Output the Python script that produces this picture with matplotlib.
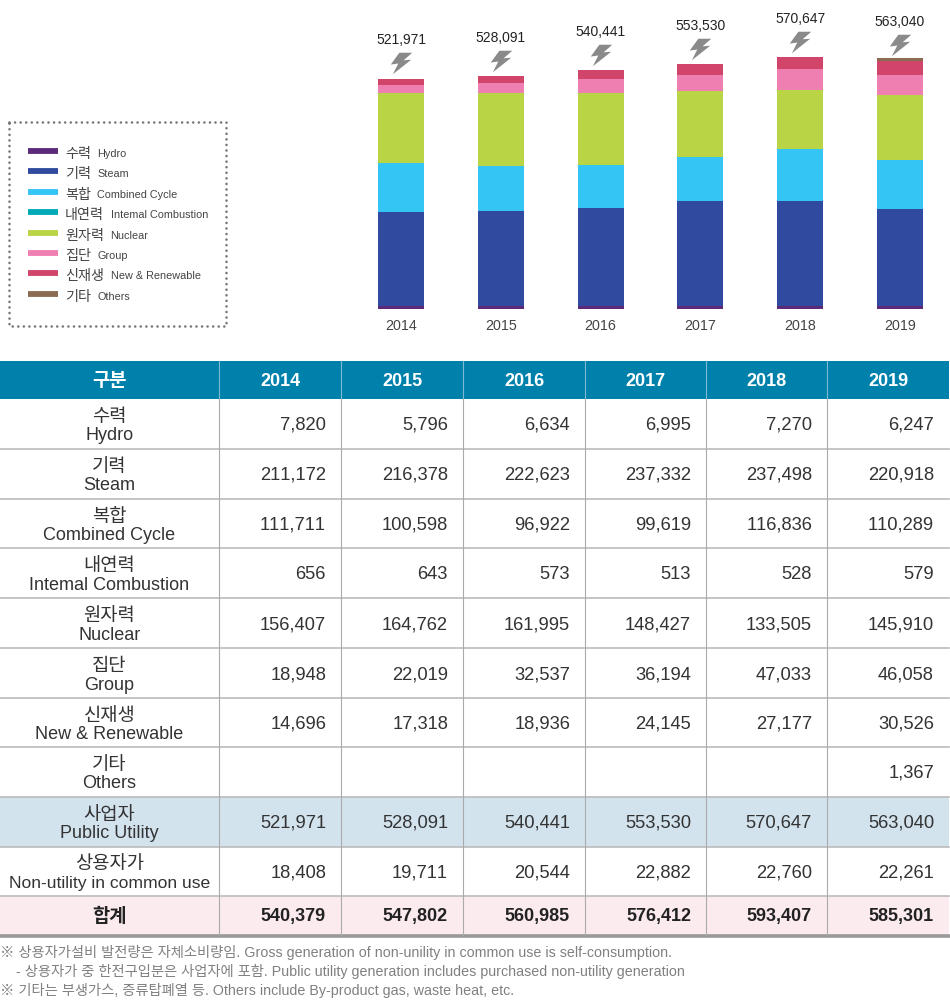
import matplotlib
matplotlib.use('Agg')
import matplotlib.pyplot as plt
from matplotlib.path import Path
from matplotlib.transforms import Affine2D, offset_copy

plt.rcParams['font.family'] = ['Liberation Sans', 'Noto Sans CJK KR', 'DejaVu Sans']
plt.rcParams['text.kerning_factor'] = 6

years = [2014, 2015, 2016, 2017, 2018, 2019]
names_ko = ['수력', '기력', '복합', '내연력', '원자력', '집단', '신재생', '기타']
names_en = ['Hydro', 'Steam', 'Combined Cycle', 'Intemal Combustion', 'Nuclear', 'Group',
            'New & Renewable', 'Others']
colors = ['#5B2A7B', '#2F4A9E', '#35C5F4', '#00A9B5', '#B9D546', '#EF7FB0', '#D1456B', '#8B6B52']

hydro = [7820, 5796, 6634, 6995, 7270, 6247]
steam = [211172, 216378, 222623, 237332, 237498, 220918]
combined = [111711, 100598, 96922, 99619, 116836, 110289]
internal = [656, 643, 573, 513, 528, 579]
nuclear = [156407, 164762, 161995, 148427, 133505, 145910]
group = [18948, 22019, 32537, 36194, 47033, 46058]
renewable = [14696, 17318, 18936, 24145, 27177, 30526]
others = [None, None, None, None, None, 1367]
# the brown cap in the chart is drawn thicker than its table value
others_bar = [0, 0, 0, 0, 0, 7500]
public_utility = [521971, 528091, 540441, 553530, 570647, 563040]
non_utility = [18408, 19711, 20544, 22882, 22760, 22261]
total = [540379, 547802, 560985, 576412, 593407, 585301]

series = [hydro, steam, combined, internal, nuclear, group, renewable, others]
bar_series = [hydro, steam, combined, internal, nuclear, group, renewable, others_bar]

notes = ['※ 상용자가설비 발전량은 자체소비량임. Gross generation of non-unility in common use is self-consumption.',
         '    - 상용자가 중 한전구입분은 사업자에 포함. Public utility generation includes purchased non-utility generation',
         '※ 기타는 부생가스, 증류탑폐열 등. Others include By-product gas, waste heat, etc.']

fig = plt.figure(figsize=(9.5, 10), dpi=100)

# overlay in pixel coordinates for the table and legend box
page = fig.add_axes([0, 0, 1, 1])
page.set_xlim(0, 950)
page.set_ylim(1000, 0)
page.axis('off')

# stacked bars
ax = fig.add_axes([350 / 950, 1 - 309 / 1000, 600 / 950, 309 / 1000])
ax.patch.set_alpha(0)
bottom = [0] * 6
for vals, c in zip(bar_series, colors):
    ax.bar(range(6), vals, 0.46, bottom=bottom, color=c, edgecolor='none')
    bottom = [a + b for a, b in zip(bottom, vals)]
ax.set_xlim(-0.511, 5.501)
ax.set_ylim(0, 699000)
ax.set_yticks([])
ax.set_xticks(range(6), years)
ax.tick_params(axis='x', length=0, pad=7.5, labelsize=10.3, labelcolor='#444444')
for s in ax.spines.values():
    s.set_visible(False)

bolt = Path([(10, -10), (-2, -10), (-10, 1), (-3, 0), (-8, 10), (9, -3.5), (2, -3), (10, -10)],
            closed=True)
bolt = bolt.transformed(Affine2D().scale(1, -1))
ax.plot(range(6), public_utility, ls='', marker=bolt, ms=15.5, color='#8A8A8A', mew=0,
        transform=offset_copy(ax.transData, fig, y=15, units='dots'), clip_on=False)
for i, v in enumerate(public_utility):
    ax.annotate(f'{v:,}', (i, v), xytext=(0, 38), textcoords='offset pixels', ha='center',
                va='center', fontsize=10, color='#222222')

# legend
page.add_patch(plt.Rectangle((9, 122), 217, 204, fill=False, ec='#777777', lw=1.9,
                             ls=(0, (0.01, 2.1)), capstyle='round'))
for i, (ko, en, c) in enumerate(zip(names_ko, names_en, colors)):
    y = 151 + i * 20.4
    page.plot([28, 58], [y, y], color=c, lw=4.2, solid_capstyle='butt')
    page.text(65, y + 3, ko, fontsize=10.2, color='#444444', va='center')
    page.text(71 + 13.2 * len(ko), y + 3, en, fontsize=7.8, color='#444444', va='center')

# table
col_edges = [0, 219, 341, 463, 585, 706, 827, 949]
row_edges = [399, 449, 499, 548, 598, 648, 698, 747, 797, 847, 896, 935]

page.fill_between([0, 949], 361, 399, color='#0081AB', lw=0)
page.fill_between([0, 949], row_edges[8], row_edges[9], color='#D3E3EE', lw=0)
page.fill_between([0, 949], row_edges[10], row_edges[11], color='#FBEBEF', lw=0)

page.text(109.5, 382, '구분', color='white', fontsize=13.5, fontweight='bold', ha='center', va='center')
for j, yr in enumerate(years):
    page.text((col_edges[j + 1] + col_edges[j + 2]) / 2, 382, str(yr), color='white', fontsize=13,
              fontweight='bold', ha='center', va='center')

rows = list(zip(names_ko, names_en, series))
rows.append(('사업자', 'Public Utility', public_utility))
rows.append(('상용자가', 'Non-utility in common use', non_utility))
for i, (ko, en, vals) in enumerate(rows):
    y0, y1 = row_edges[i], row_edges[i + 1]
    mid = (y0 + y1) / 2
    page.text(109.5, mid - 6.5, ko, fontsize=13.5, color='#333333', ha='center', va='center')
    page.text(109.5, mid + 12, en, fontsize=12.6 if len(en) > 20 else 13, color='#333333',
              ha='center', va='center')
    for j, v in enumerate(vals):
        if v is not None:
            page.text(col_edges[j + 2] - 15, mid + 1.5, f'{v:,}', fontsize=13.2, color='#333333',
                      ha='right', va='center')

mid = (row_edges[10] + row_edges[11]) / 2 + 1.5
page.text(109.5, mid, '합계', fontsize=13.5, fontweight='bold', color='#222222', ha='center', va='center')
for j, v in enumerate(total):
    page.text(col_edges[j + 2] - 15, mid, f'{v:,}', fontsize=13, fontweight='bold', color='#222222',
              ha='right', va='center')

for y in row_edges[1:-1]:
    page.plot([0, 949], [y, y], color='#BBBBBB', lw=1.2)
page.plot([0, 949], [row_edges[-1] + 1, row_edges[-1] + 1], color='#999999', lw=2.6)
for x in col_edges[1:-1]:
    page.plot([x, x], [361, 399], color='#7FBAD3', lw=0.8)
    page.plot([x, x], [399, 935], color='#AAAAAA', lw=0.8)

for y, line in zip([953, 971, 990], notes):
    page.text(0, y, line, fontsize=10.3, color='#808080', va='center')

fig.savefig('out.png', dpi=100)
